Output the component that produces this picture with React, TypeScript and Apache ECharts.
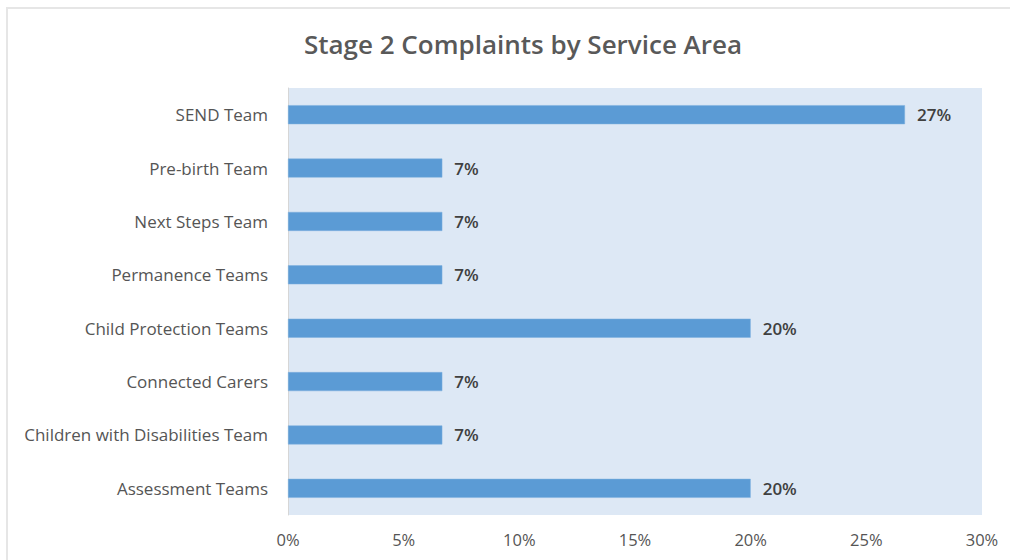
import React, { useEffect, useRef } from "react";
import * as echarts from "echarts";

const categories = [
  "SEND Team",
  "Pre-birth Team",
  "Next Steps Team",
  "Permanence Teams",
  "Child Protection Teams",
  "Connected Carers",
  "Children with Disabilities Team",
  "Assessment Teams",
];
const values = [26.67, 6.67, 6.67, 6.67, 20, 6.67, 6.67, 20];
const FONT = "'Open Sans', 'Noto Sans', sans-serif";

export default function App() {
  const ref = useRef<HTMLDivElement>(null);
  useEffect(() => {
    document.body.style.margin = "0";
    const chart = echarts.init(ref.current!, null, { renderer: "svg" });
    chart.setOption({
      animation: false,
      backgroundColor: "#ffffff",
      title: {
        text: "Stage 2 Complaints by Service Area",
        left: 518,
        textAlign: "center",
        top: 26,
        textStyle: { fontFamily: FONT, fontSize: 26, fontWeight: 600, color: "#595959" },
      },
      graphic: [
        {
          type: "rect",
          shape: { x: 7, y: 8, width: 1020, height: 600 },
          style: { fill: "none", stroke: "#e6e6e6", lineWidth: 2 },
          silent: true,
        },
      ],
      grid: {
        left: 288,
        right: 28,
        top: 88,
        bottom: 45,
        show: true,
        backgroundColor: "#dde8f5",
        borderWidth: 0,
      },
      xAxis: {
        type: "value",
        min: 0,
        max: 30,
        interval: 5,
        axisLine: { show: false },
        axisTick: { show: false },
        splitLine: { show: false },
        axisLabel: {
          formatter: (v: number) => v + "%",
          fontFamily: FONT,
          fontSize: 16.5,
          color: "#555555",
          margin: 16,
        },
      },
      yAxis: {
        type: "category",
        data: categories,
        inverse: true,
        axisLine: { show: true, lineStyle: { color: "#d6d6d6", width: 1 } },
        axisTick: { show: false },
        axisLabel: {
          fontFamily: FONT,
          fontSize: 17,
          color: "#555555",
          margin: 20,
        },
      },
      series: [
        {
          type: "bar",
          data: values,
          barWidth: 19,
          itemStyle: { color: "#5b9bd5", borderColor: "#7fb0de", borderWidth: 0.5 },
          label: {
            show: true,
            position: "right",
            distance: 12,
            formatter: (p: any) => Math.round(p.value) + "%",
            fontFamily: FONT,
            fontSize: 17,
            fontWeight: 600,
            color: "#404040",
          },
        },
      ],
    });
    return () => chart.dispose();
  }, []);
  return <div ref={ref} style={{ position: "fixed", left: 0, top: 0, width: 1010, height: 560 }} />;
}
